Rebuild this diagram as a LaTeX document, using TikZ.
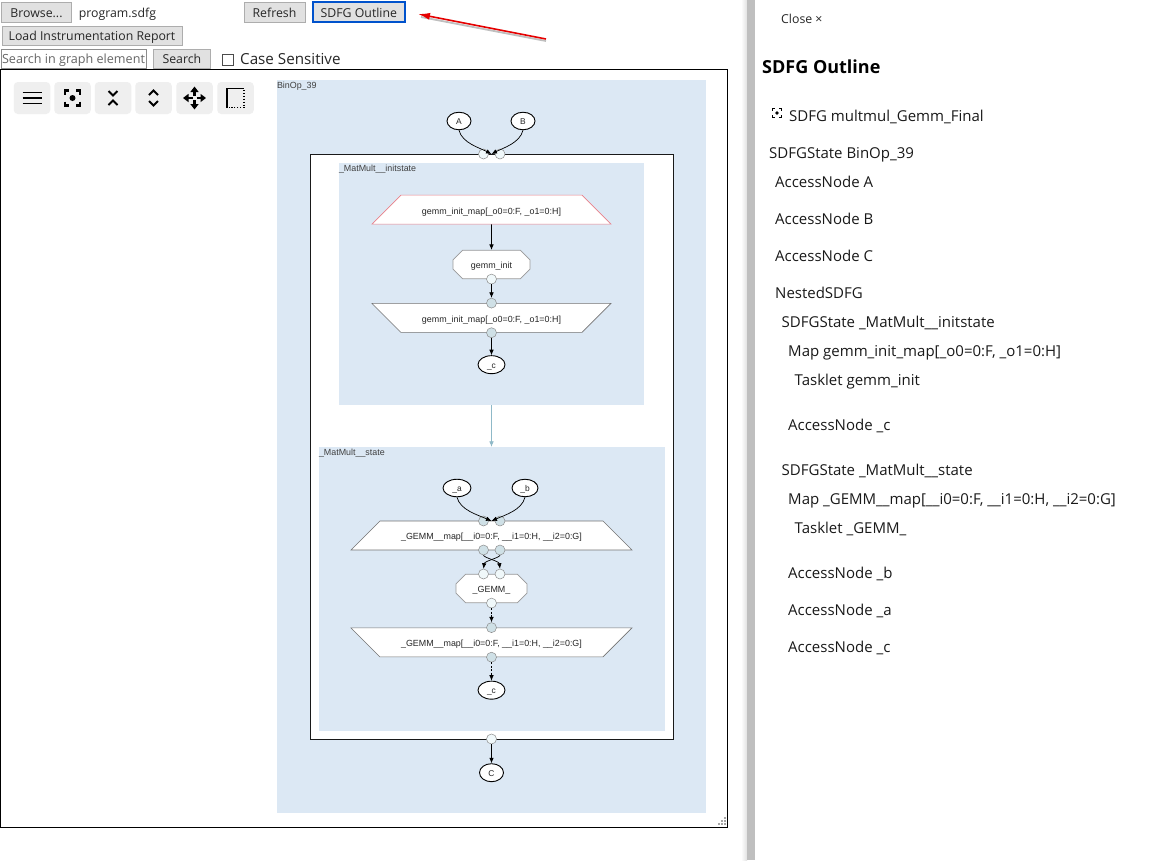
\documentclass[tikz,border=0pt]{standalone}
\usepackage{fontspec}
\setmainfont{Open Sans}
\newfontfamily\graphfont{Liberation Sans}
\usetikzlibrary{shapes.geometric, shapes.misc, arrows.meta, positioning, calc}

\definecolor{statefill}{HTML}{DCE8F4}
\definecolor{btnfill}{HTML}{E1E1E1}
\definecolor{btnline}{HTML}{ADADAD}
\definecolor{iconfill}{HTML}{EFEFEF}
\definecolor{connin}{HTML}{CFE0E6}
\definecolor{connout}{HTML}{F0F8FA}
\definecolor{interedge}{HTML}{8FB9C8}
\definecolor{mapred}{HTML}{E8808A}

\begin{document}
\begin{tikzpicture}[
    x=1pt, y=-1pt,
    node distance=10pt and 6pt,
    btn/.style={rectangle, draw=btnline, fill=btnfill, inner sep=0pt, minimum height=20pt, text height=10.5pt, text depth=0.5pt, font=\fontsize{12.3}{14}\selectfont, text=black!85},
    uitext/.style={inner sep=0pt, text height=10.5pt, text depth=0.5pt, font=\fontsize{12.3}{14}\selectfont, text=black!85},
    iconbtn/.style={rectangle, rounded corners=4pt, fill=iconfill, minimum width=36.5pt, minimum height=32pt, inner sep=0pt},
    iconline/.style={draw=black, line width=1.9pt},
    state/.style={rectangle, fill=statefill, inner sep=0pt},
    statelabel/.style={inner sep=0pt, font=\graphfont\fontsize{8.9}{10}\selectfont, text=black!75},
    mapnode/.style={trapezium, trapezium angle=45, trapezium stretches body=true, draw=black!55, line width=0.6pt, fill=white, inner xsep=0pt, inner ysep=9.4pt, minimum width=239pt, text height=9.5pt, text depth=0.7pt, font=\graphfont\fontsize{8.9}{10}\selectfont, text=black!85},
    tasklet/.style={chamfered rectangle, chamfered rectangle xsep=9pt, chamfered rectangle ysep=5pt, draw=black!40, line width=0.7pt, fill=white, inner xsep=0pt, inner ysep=0pt, minimum height=28.5pt, text height=8.5pt, text depth=0.7pt, font=\graphfont\fontsize{8.9}{10}\selectfont, text=black!85},
    access/.style={ellipse, draw=black, line width=0.9pt, fill=white, inner sep=0pt, minimum width=24pt, minimum height=17.5pt, text height=7.5pt, text depth=0.5pt, font=\graphfont\fontsize{8.4}{9}\selectfont, text=black!85},
    conn/.style={circle, draw=black!45, line width=0.5pt, inner sep=0pt, minimum size=10pt},
    connIn/.style={conn, fill=connin},
    connOut/.style={conn, fill=connout},
    edge/.style={-{Latex[length=5.5pt,width=4.6pt]}, draw=black, line width=0.7pt},
    dashedge/.style={edge, dash pattern=on 2pt off 1.4pt},
    row/.style={inner sep=0pt, text height=11pt, text depth=3pt, font=\fontsize{15}{17}\selectfont, text=black!90},
    focusicon/.pic={
        \foreach \sx/\sy in {-1/-1, 1/-1, 1/1, -1/1} {
            \draw[line width=#1] (\sx*7.5,\sy*3.5) -- (\sx*7.5,\sy*7.5) -- (\sx*3.5,\sy*7.5);
        }
        \fill (0,0) circle (3);
    },
    pics/focusicon/.default=2.2pt
]

\useasboundingbox (0,0) rectangle (1162,860);

\node[btn, minimum width=70pt] (browse) at (36.5,12) {Browse...};
\node[uitext, right=7pt of browse] (filename) {program.sdfg};
\node[btn, minimum width=61pt] (refresh) at (274.5,12) {Refresh};
\node[btn, draw=blue!60!cyan!80!black, line width=1.3pt, minimum width=92pt, right=7pt of refresh] (outlinebtn) {SDFG Outline};
\node[btn, minimum width=180pt, minimum height=19pt] (loadreport) at (92,35.5) {Load Instrumentation Report};
\node[rectangle, draw=black!45, fill=white, inner sep=0pt, minimum width=145pt, minimum height=19pt, text height=10.5pt, text depth=0.5pt, font=\fontsize{12.6}{14}\selectfont, text=black!60] (searchbox) at (73.5,58.5) {Search in graph element};
\node[btn, minimum width=57pt, minimum height=19pt, right=7pt of searchbox] (searchbtn) {Search};
\node[rectangle, draw=black!70, fill=white, inner sep=0pt, minimum size=11pt, right=11pt of searchbtn, yshift=-1pt] (casebox) {};
\node[uitext, font=\fontsize{15.2}{17}\selectfont, right=7pt of casebox] (caselabel) {Case Sensitive};

\coordinate (arrowtail) at (546,39);
\coordinate (arrowhead) at (418,14);
\draw[black!25, line width=1.8pt] ($(arrowtail)+(0,2)$) -- ($(arrowhead)+(3,3)$);
\draw[-{Latex[length=12pt,width=7pt]}, red!90!black, line width=1.6pt] (arrowtail) -- (arrowhead);

\node[rectangle, draw=black, line width=1pt, fill=white, inner sep=0pt, minimum width=727pt, minimum height=758pt] (canvas) at (363.5,448) {};
\foreach \hx/\hy in {724/817, 724/820, 721/820, 724/823, 721/823, 718/823} {
    \fill[black!35] (\hx,\hy) rectangle ++(2,2);
}

\node[iconbtn] (menubtn) at (32,98) {};
\node[iconbtn] (focusbtn) at (72.5,98) {};
\node[iconbtn] (collapsebtn) at (113,98) {};
\node[iconbtn] (expandbtn) at (153.5,98) {};
\node[iconbtn] (movebtn) at (194.5,98) {};
\node[iconbtn] (boxbtn) at (235.5,98) {};

\foreach \ly in {-5.5, 0, 5.5} {
    \draw[iconline] ($(menubtn)+(-9.5,\ly)$) -- ($(menubtn)+(9.5,\ly)$);
}
\pic at (focusbtn) {focusicon};
\draw[iconline] ($(collapsebtn)+(-4.5,-7)$) -- ($(collapsebtn)+(0,-2.5)$) -- ($(collapsebtn)+(4.5,-7)$);
\draw[iconline] ($(collapsebtn)+(-4.5,7)$) -- ($(collapsebtn)+(0,2.5)$) -- ($(collapsebtn)+(4.5,7)$);
\draw[iconline] ($(expandbtn)+(-4.5,-3)$) -- ($(expandbtn)+(0,-7.5)$) -- ($(expandbtn)+(4.5,-3)$);
\draw[iconline] ($(expandbtn)+(-4.5,3)$) -- ($(expandbtn)+(0,7.5)$) -- ($(expandbtn)+(4.5,3)$);
\foreach \ax/\ay in {0/-1, 1/0, 0/1, -1/0} {
    \draw[black, line width=2.4pt, -{Triangle[length=5.5pt,width=8pt]}] ($(movebtn)+(\ax*2,\ay*2)$) -- ($(movebtn)+(\ax*11.5,\ay*11.5)$);
}
\draw[black, line width=1.8pt] ($(boxbtn)+(-8.5,10)$) -- ($(boxbtn)+(-8.5,-9.5)$) -- ($(boxbtn)+(8.5,-9.5)$);
\draw[black, line width=1.3pt, dash pattern=on 1.3pt off 1.6pt] ($(boxbtn)+(8.5,-8)$) -- ($(boxbtn)+(8.5,9.5)$) -- ($(boxbtn)+(-7,9.5)$);

\node[state, minimum width=429pt, minimum height=733pt] (binop) at (491.5,446.5) {};
\node[statelabel, below right=2.5pt and 0pt of binop.north west] (binoplabel) {BinOp\_39};

\node[access] (nodeA) at (459,121) {A};
\node[access] (nodeB) at (523,121) {B};

\node[rectangle, draw=black!90, line width=0.9pt, fill=white, inner sep=0pt, minimum width=363pt, minimum height=585pt] (nested) at (491.5,446.5) {};
\coordinate (nestedtop) at (491.5,154);
\node[connOut] (nestedinA) at (483.5,154) {};
\node[connOut] (nestedinB) at (500,154) {};
\node[connOut] (nestedout) at (491.5,739) {};
\node[access, minimum height=18pt, below=19pt of nestedout] (nodeC) {C};

\node[state, minimum width=305pt, minimum height=242pt] (initstate) at (491.5,284) {};
\node[statelabel, below right=2.5pt and 0pt of initstate.north west] (initlabel) {\_MatMult\_\_initstate};
\node[mapnode, draw=mapred, below=32pt of initstate.north] (initmap) {gemm\_init\_map[\_o0=0:F, \_o1=0:H]};
\node[tasklet, minimum width=77pt, below=25.5pt of initmap] (inittask) {gemm\_init};
\node[connOut, at=(inittask.south)] (inittaskout) {};
\node[mapnode, shape border rotate=180, below=24pt of inittask] (initexit) {gemm\_init\_map[\_o0=0:F, \_o1=0:H]};
\node[connIn, at=(initexit.north)] (initexitin) {};
\node[connIn, at=(initexit.south)] (initexitout) {};
\node[access, minimum width=27pt, minimum height=18pt, below=22.5pt of initexit] (initc) {\_c};

\node[state, minimum width=346pt, minimum height=284pt] (gemmstate) at (492,589) {};
\node[statelabel, below right=2.5pt and 0pt of gemmstate.north west] (gemmlabel) {\_MatMult\_\_state};
\node[access, minimum width=28pt] (nodea) at (457,488) {\_a};
\node[access, minimum width=26pt] (nodeb) at (525,488) {\_b};
\node[mapnode, minimum width=281pt] (gemmmap) at (491.5,535.5) {\_GEMM\_\_map[\_\_i0=0:F, \_\_i1=0:H, \_\_i2=0:G]};
\coordinate (gemmtop) at (491.5,521);
\node[connIn] (mapinA) at (483.5,521) {};
\node[connIn] (mapinB) at (500,521) {};
\node[connIn] (mapoutA) at (483.5,550) {};
\node[connIn] (mapoutB) at (500,550) {};
\node[tasklet, minimum width=71pt] (gemmtask) at (491.5,588.5) {\_GEMM\_};
\node[connOut] (taskinA) at (483.5,574) {};
\node[connOut] (taskinB) at (500,574) {};
\node[connOut, at=(gemmtask.south)] (taskout) {};
\node[mapnode, minimum width=281pt, shape border rotate=180, below=24.5pt of gemmtask] (gemmexit) {\_GEMM\_\_map[\_\_i0=0:F, \_\_i1=0:H, \_\_i2=0:G]};
\node[connIn, at=(gemmexit.north)] (gemmexitin) {};
\node[connIn, at=(gemmexit.south)] (gemmexitout) {};
\node[access, minimum width=27pt, minimum height=18pt, below=23.5pt of gemmexit] (gemmc) {\_c};

\draw[edge] (nodeA.south) .. controls (462,143) and (480,148) .. (nestedtop);
\draw[edge] (nodeB.south) .. controls (520,143) and (503,148) .. (nestedtop);
\draw[edge] (nestedout) -- (nodeC);
\draw[edge] (initmap) -- (inittask);
\draw[edge] (inittaskout) -- (initexitin);
\draw[edge] (initexitout) -- (initc);
\draw[-{Latex[length=5.5pt,width=4.6pt]}, interedge, line width=0.7pt] (initstate.south) -- (gemmstate.north -| initstate.south);
\draw[edge] (nodea.south) .. controls (460,510) and (478,515) .. (gemmtop);
\draw[edge] (nodeb.south) .. controls (522,510) and (505,515) .. (gemmtop);
\draw[edge] (mapoutB.south) .. controls (499,558) and (484.5,561) .. (taskinA.north);
\draw[edge] (mapoutA.south) .. controls (484.5,558) and (499,561) .. (taskinB.north);
\draw[dashedge] (taskout) -- (gemmexitin);
\draw[dashedge] (gemmexitout) -- (gemmc);

\shade[left color=white, right color=black!12] (741,0) rectangle (747,860);
\node[rectangle, fill=black!25, inner sep=0pt, minimum width=8pt, minimum height=860pt] (divider) at (751,430) {};

\node[uitext, anchor=west] (closelink) at (781,18) {Close ×};
\node[inner sep=0pt, anchor=west, font=\bfseries\fontsize{18}{22}\selectfont] (outlinetitle) at (762,67) {SDFG Outline};
\node[row, anchor=west] (rowsdfg) at (789,117.5) {SDFG multmul\_Gemm\_Final};
\pic[scale=0.6] at (777,113) {focusicon=1.6pt};
\node[row, below=37pt of rowsdfg.west, anchor=west, xshift=-20pt] (rowbinop) {SDFGState BinOp\_39};
\node[row, below=29pt of rowbinop.west, anchor=west, xshift=6pt] (rowA) {AccessNode A};
\node[row, below=37pt of rowA.west, anchor=west] (rowB) {AccessNode B};
\node[row, below=37pt of rowB.west, anchor=west] (rowC) {AccessNode C};
\node[row, below=37pt of rowC.west, anchor=west] (rownested) {NestedSDFG};
\node[row, below=29pt of rownested.west, anchor=west, xshift=6.5pt] (rowinit) {SDFGState \_MatMult\_\_initstate};
\node[row, below=29pt of rowinit.west, anchor=west, xshift=6.5pt] (rowinitmap) {Map gemm\_init\_map[\_o0=0:F, \_o1=0:H]};
\node[row, below=29pt of rowinitmap.west, anchor=west, xshift=6.5pt] (rowinittask) {Tasklet gemm\_init};
\node[row, below=45pt of rowinittask.west, anchor=west, xshift=-6.5pt] (rowinitc) {AccessNode \_c};
\node[row, below=45pt of rowinitc.west, anchor=west, xshift=-6.5pt] (rowstate) {SDFGState \_MatMult\_\_state};
\node[row, below=29pt of rowstate.west, anchor=west, xshift=6.5pt] (rowgemmmap) {Map \_GEMM\_\_map[\_\_i0=0:F, \_\_i1=0:H, \_\_i2=0:G]};
\node[row, below=29pt of rowgemmmap.west, anchor=west, xshift=6.5pt] (rowgemmtask) {Tasklet \_GEMM\_};
\node[row, below=45pt of rowgemmtask.west, anchor=west, xshift=-6.5pt] (rowb) {AccessNode \_b};
\node[row, below=37pt of rowb.west, anchor=west] (rowa) {AccessNode \_a};
\node[row, below=37pt of rowa.west, anchor=west] (rowc) {AccessNode \_c};

\end{tikzpicture}
\end{document}
